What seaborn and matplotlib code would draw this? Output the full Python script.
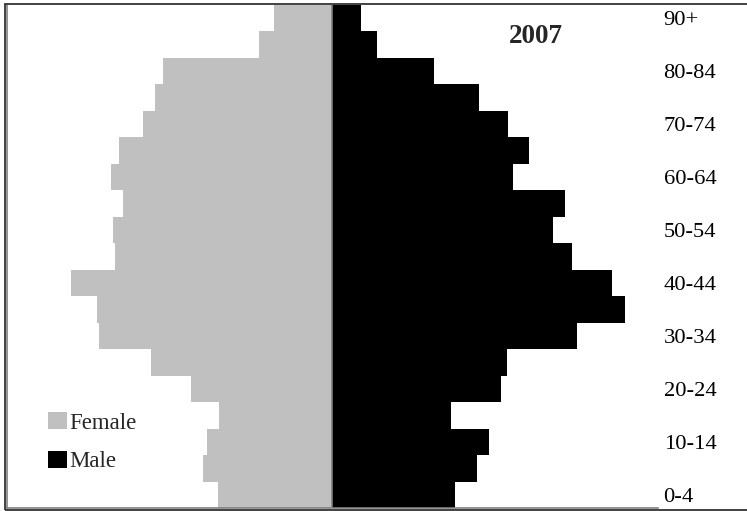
import matplotlib
matplotlib.use("Agg")
import matplotlib.pyplot as plt
from matplotlib.patches import Patch, Rectangle
import seaborn as sns
import pandas as pd

# Age groups, youngest first
ages = ["0-4", "5-9", "10-14", "15-19", "20-24", "25-29", "30-34", "35-39",
        "40-44", "45-49", "50-54", "55-59", "60-64", "65-69", "70-74",
        "75-79", "80-84", "85-89", "90+"]
female = [114, 129, 125, 113, 141, 181, 233, 235, 261, 217, 219, 209, 221,
          213, 189, 177, 169, 73, 58]
male = [123, 145, 157, 119, 169, 175, 245, 293, 280, 240, 221, 233, 181,
        197, 176, 147, 102, 45, 29]
year_label = "2007"
shown_labels = ["0-4", "10-14", "20-24", "30-34", "40-44", "50-54", "60-64",
                "70-74", "80-84", "90+"]

df = pd.DataFrame({"age": ages, "female": [-v for v in female], "male": male})
order = ages[::-1]  # oldest at the top

sns.set_style("white")
plt.rcParams["font.family"] = ["Liberation Serif", "DejaVu Serif"]

W, H = 747, 511
fig = plt.figure(figsize=(W / 100, H / 100), dpi=100)
ax = fig.add_axes([6.5 / W, 1 - 508.3 / H, (658 - 6.5) / W, (508.3 - 4.7) / H])

FEMALE_C = "#c0c0c0"
MALE_C = "#000000"

sns.barplot(data=df, x="female", y="age", order=order, color=FEMALE_C,
            saturation=1, width=1.0, linewidth=0, ax=ax)
sns.barplot(data=df, x="male", y="age", order=order, color=MALE_C,
            saturation=1, width=1.0, linewidth=0, ax=ax)

ax.axvline(0, color="#808080", lw=1.2, zorder=5)
ax.set_xlim(-326, 326)
ax.set_ylim(len(order) - 0.5, -0.5)

ax.set_xlabel("")
ax.set_ylabel("")
ax.set_xticks([])
ax.yaxis.tick_right()
ax.set_yticks(range(len(order)))
ax.set_yticklabels([a if a in shown_labels else "" for a in order], fontsize=16.2)
ax.tick_params(axis="y", length=0, pad=4, labelcolor="#000000")

for side in ["top", "right"]:
    ax.spines[side].set_visible(False)
for side in ["left", "bottom"]:
    ax.spines[side].set_visible(True)
    ax.spines[side].set_color("#808080")
    ax.spines[side].set_linewidth(1.2)

ax.text(0.813, 0.937, year_label, transform=ax.transAxes, fontsize=19.5,
        fontweight="bold", ha="center", va="center")

handles = [Patch(facecolor=FEMALE_C, edgecolor="none", label="Female"),
           Patch(facecolor=MALE_C, edgecolor="none", label="Male")]
ax.legend(handles=handles, loc="lower left", bbox_to_anchor=(0.05, 0.053),
          frameon=False, fontsize=16.5, handlelength=0.8, handleheight=0.8,
          handletextpad=0.1, labelspacing=0.75, borderaxespad=0)

# outer frame around the figure area
fig.patches.append(Rectangle((5 / W, 1 - 510 / H), 2.0, (510 - 4) / H,
                             transform=fig.transFigure, fill=False,
                             edgecolor="#333333", lw=1.3, zorder=10))

fig.savefig("out.png", dpi=100)
